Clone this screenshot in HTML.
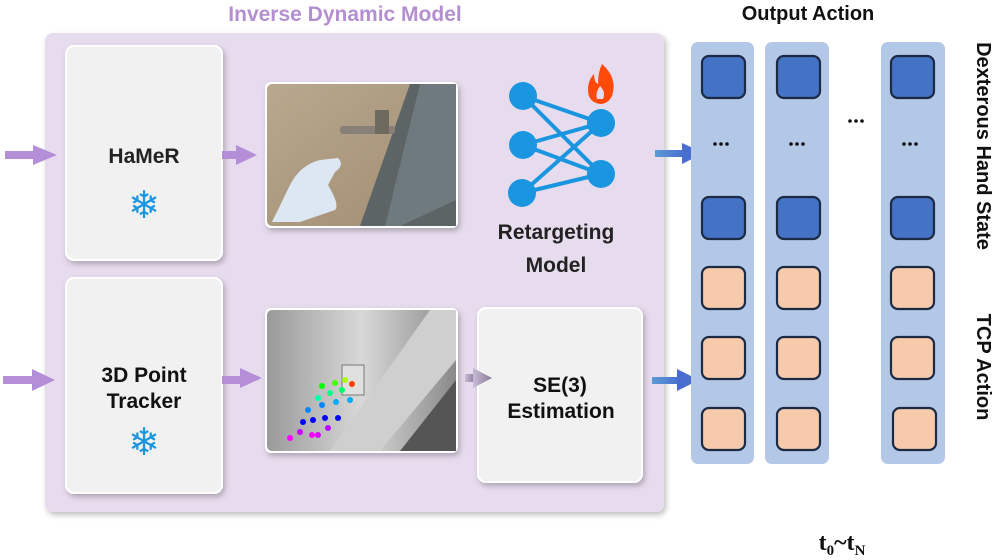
<!DOCTYPE html>
<html><head><meta charset="utf-8"><style>
body{margin:0;width:997px;height:560px;background:#fff;overflow:hidden}
svg{display:block}
text{font-family:"Liberation Sans",sans-serif;font-weight:bold}
</style></head><body>
<svg width="997" height="560" viewBox="0 0 997 560" xmlns="http://www.w3.org/2000/svg">
<defs>
<filter id="sh" x="-10%" y="-10%" width="130%" height="130%"><feDropShadow dx="2" dy="3" stdDeviation="3" flood-color="#000" flood-opacity="0.25"/></filter>
<linearGradient id="door" x1="0" y1="0" x2="1" y2="1"><stop offset="0" stop-color="#b9a88f"/><stop offset="1" stop-color="#a08c70"/></linearGradient>
<linearGradient id="gray" x1="0" y1="0" x2="1" y2="0"><stop offset="0" stop-color="#9a9a9a"/><stop offset="0.5" stop-color="#d8d8d8"/><stop offset="1" stop-color="#8a8a8a"/></linearGradient>
<linearGradient id="ga" x1="0" x2="1"><stop offset="0" stop-color="#c8bcd6"/><stop offset="1" stop-color="#8a7a9a"/></linearGradient>
<linearGradient id="ba" x1="0" x2="1"><stop offset="0" stop-color="#5b9bd5"/><stop offset="1" stop-color="#4a6ed0"/></linearGradient>
</defs>
<text x="345" y="21" text-anchor="middle" font-size="21" fill="#b48fd0">Inverse Dynamic Model</text>
<rect x="45" y="33" width="619" height="479" rx="8" fill="#e7dcee" filter="url(#sh)"/>
<!-- HaMeR -->
<rect x="66" y="46" width="156" height="214" rx="8" fill="#f1f1f1" stroke="#fff" stroke-width="2" filter="url(#sh)"/>
<text x="144" y="163" text-anchor="middle" font-size="21" fill="#222">HaMeR</text>
<text x="144" y="218" text-anchor="middle" font-size="38" fill="#1a96e0" style="font-weight:normal">❄</text>
<!-- Tracker -->
<rect x="66" y="278" width="156" height="215" rx="8" fill="#f1f1f1" stroke="#fff" stroke-width="2" filter="url(#sh)"/>
<text x="144" y="382" text-anchor="middle" font-size="21" fill="#111">3D Point</text>
<text x="144" y="408" text-anchor="middle" font-size="21" fill="#111">Tracker</text>
<text x="144" y="455" text-anchor="middle" font-size="38" fill="#1a96e0" style="font-weight:normal">❄</text>
<!-- Photo1 -->
<g filter="url(#sh)"><rect x="265" y="82" width="193" height="146" rx="6" fill="#fff"/></g>
<rect x="267" y="84" width="189" height="142" rx="5" fill="url(#door)"/>
<polygon points="410,84 456,84 456,226 360,226" fill="#5d6466"/>
<polygon points="420,84 456,84 456,200 400,226 385,226" fill="#6f7a7e"/>
<rect x="340" y="126" width="55" height="8" rx="3" fill="#888078"/>
<rect x="375" y="110" width="14" height="24" fill="#6f6a60"/>
<path d="M272 222 L290 185 Q300 165 320 160 L338 158 Q345 165 335 172 L328 185 Q340 205 335 210 L300 222 Z" fill="#dde6f3"/>
<!-- Photo2 -->
<g filter="url(#sh)"><rect x="265" y="308" width="193" height="145" rx="6" fill="#fff"/></g>
<rect x="267" y="310" width="189" height="141" rx="5" fill="url(#gray)"/>
<polygon points="430,310 456,310 456,360 380,451 330,451" fill="#cfcfcf"/>
<polygon points="456,380 456,451 400,451" fill="#555"/>
<rect x="342" y="365" width="22" height="30" fill="#e0e0e0" stroke="#777"/>
<g>
<circle cx="290" cy="438" r="3" fill="#f0f"/><circle cx="300" cy="432" r="3" fill="#c0f"/><circle cx="312" cy="435" r="3" fill="#f0f"/>
<circle cx="303" cy="422" r="3" fill="#00f"/><circle cx="313" cy="420" r="3" fill="#00f"/><circle cx="325" cy="418" r="3" fill="#00f"/><circle cx="338" cy="418" r="3" fill="#00f"/>
<circle cx="308" cy="410" r="3" fill="#08f"/><circle cx="322" cy="405" r="3" fill="#08f"/><circle cx="336" cy="402" r="3" fill="#0af"/><circle cx="350" cy="400" r="3" fill="#0af"/>
<circle cx="318" cy="398" r="3" fill="#0fa"/><circle cx="330" cy="393" r="3" fill="#0f8"/><circle cx="342" cy="390" r="3" fill="#0f6"/>
<circle cx="322" cy="386" r="3" fill="#0f0"/><circle cx="335" cy="383" r="3" fill="#4f0"/><circle cx="345" cy="380" r="3" fill="#af0"/><circle cx="352" cy="384" r="3" fill="#f40"/>
<circle cx="318" cy="435" r="3" fill="#d0f"/><circle cx="328" cy="428" r="3" fill="#b0f"/>
</g>
<!-- SE3 -->
<rect x="478" y="308" width="164" height="174" rx="8" fill="#f1f1f1" stroke="#fff" stroke-width="2" filter="url(#sh)"/>
<text x="560" y="392" text-anchor="middle" font-size="21" fill="#111">SE(3)</text>
<text x="561" y="418" text-anchor="middle" font-size="21" fill="#111">Estimation</text>
<!-- network -->
<g stroke="#1a96e0" stroke-width="4">
<line x1="523" y1="96" x2="601" y2="123"/><line x1="523" y1="96" x2="601" y2="174"/>
<line x1="523" y1="145" x2="601" y2="123"/><line x1="523" y1="145" x2="601" y2="174"/>
<line x1="522" y1="193" x2="601" y2="123"/><line x1="522" y1="193" x2="601" y2="174"/>
</g>
<g fill="#1a96e0"><circle cx="523" cy="96" r="14"/><circle cx="523" cy="145" r="14"/><circle cx="522" cy="193" r="14"/><circle cx="601" cy="123" r="14"/><circle cx="601" cy="174" r="14"/></g>
<path d="M602 64 Q618 78 612 96 Q608 104 600 104 Q588 102 588 90 Q588 80 594 74 Q594 82 598 84 Q598 72 602 64 Z" fill="#ff4a0a"/>
<path d="M600 86 Q606 92 603 99 L597 99 Q595 93 600 86Z" fill="#e7dcee"/>
<text x="556" y="239" text-anchor="middle" font-size="21" fill="#222">Retargeting</text>
<text x="556" y="272" text-anchor="middle" font-size="21" fill="#222">Model</text>
<!-- purple arrows -->
<g fill="#b48fd8">
<rect x="5" y="151" width="30" height="8"/><polygon points="33,145 57,155 33,165"/>
<rect x="222" y="151" width="16" height="8"/><polygon points="236,145 257,155 236,165"/>
<rect x="3" y="376" width="32" height="8"/><polygon points="32,369 55,380 32,391"/>
<rect x="222" y="376" width="20" height="8"/><polygon points="240,368 262,378 240,388"/>
</g>
<rect x="465" y="374" width="10" height="8" fill="url(#ga)"/><polygon points="473,368 492,378 473,388" fill="url(#ga)"/>
<!-- blue arrows -->
<rect x="655" y="150" width="30" height="7" fill="url(#ba)"/><polygon points="682,143 704,153 682,164" fill="#4a6ed0"/>
<rect x="652" y="377" width="28" height="7" fill="url(#ba)"/><polygon points="677,369 699,380 677,391" fill="#4a6ed0"/>
<!-- output -->
<text x="808" y="20" text-anchor="middle" font-size="20" fill="#111">Output Action</text>
<g fill="#b3c7e7"><rect x="691" y="42" width="63" height="422" rx="7"/><rect x="765" y="42" width="64" height="422" rx="7"/><rect x="881" y="42" width="64" height="422" rx="7"/></g>
<g stroke="#1c2a44" stroke-width="2.2">
<g fill="#4472c4">
<rect x="702" y="56" width="43" height="42" rx="7"/><rect x="777" y="56" width="43" height="42" rx="7"/><rect x="891" y="56" width="43" height="42" rx="7"/>
<rect x="702" y="197" width="43" height="42" rx="7"/><rect x="777" y="197" width="43" height="42" rx="7"/><rect x="891" y="197" width="43" height="42" rx="7"/>
</g>
<g fill="#f6caab">
<rect x="702" y="267" width="43" height="42" rx="7"/><rect x="777" y="267" width="43" height="42" rx="7"/><rect x="891" y="267" width="43" height="42" rx="7"/>
<rect x="702" y="337" width="43" height="42" rx="7"/><rect x="777" y="337" width="43" height="42" rx="7"/><rect x="891" y="337" width="43" height="42" rx="7"/>
<rect x="702" y="408" width="43" height="42" rx="7"/><rect x="777" y="408" width="43" height="42" rx="7"/><rect x="893" y="408" width="43" height="42" rx="7"/>
</g>
</g>
<g fill="#111">
<circle cx="715" cy="144" r="1.8"/><circle cx="721" cy="144" r="1.8"/><circle cx="727" cy="144" r="1.8"/>
<circle cx="791" cy="144" r="1.8"/><circle cx="797" cy="144" r="1.8"/><circle cx="803" cy="144" r="1.8"/>
<circle cx="904" cy="144" r="1.8"/><circle cx="910" cy="144" r="1.8"/><circle cx="916" cy="144" r="1.8"/>
<circle cx="850" cy="121" r="1.8"/><circle cx="856" cy="121" r="1.8"/><circle cx="862" cy="121" r="1.8"/>
</g>
<text transform="translate(977,146) rotate(90)" text-anchor="middle" font-size="20" fill="#111">Dexterous Hand State</text>
<text transform="translate(977,367) rotate(90)" text-anchor="middle" font-size="20" fill="#111">TCP Action</text>
<text x="842" y="550" text-anchor="middle" font-size="24" fill="#111" style="font-family:'Liberation Serif',serif">t<tspan font-size="15" dy="5">0</tspan><tspan dy="-5">~t</tspan><tspan font-size="15" dy="5">N</tspan></text>
</svg>
</body></html>
